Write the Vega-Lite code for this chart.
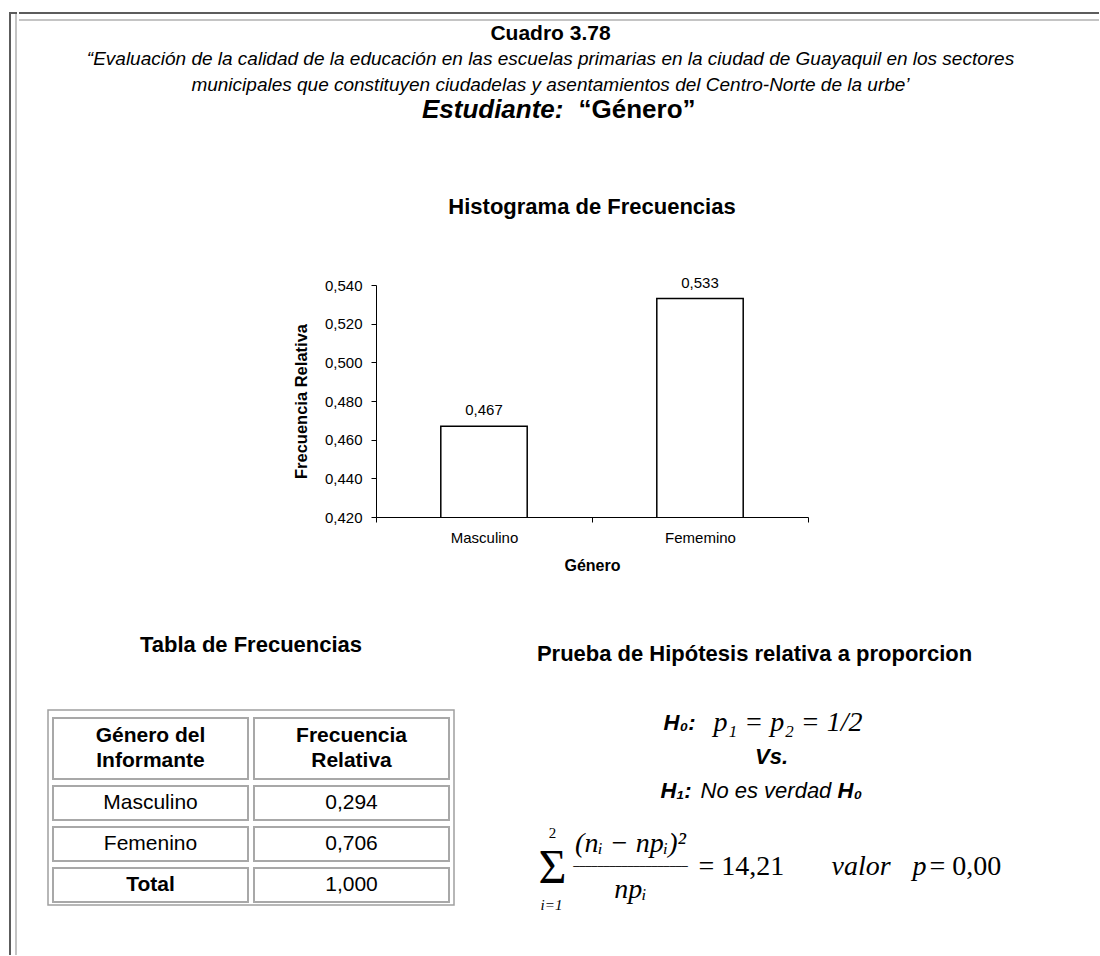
{
  "$schema": "https://vega.github.io/schema/vega-lite/v6.json",
  "background": "white",
  "padding": {"left": 8, "top": 11, "right": 0, "bottom": 0},
  "config": {
    "font": "Liberation Sans",
    "view": {"stroke": null},
    "locale": {"number": {"decimal": ",", "thousands": ".", "grouping": [3], "currency": ["", " €"]}},
    "title": {"color": "black", "font": "Liberation Sans"},
    "axis": {"labelColor": "black", "titleColor": "black", "domainColor": "black", "tickColor": "black", "labelFont": "Liberation Sans", "titleFont": "Liberation Sans", "grid": false},
    "text": {"color": "black"}
  },
  "datasets": {
    "bordes": [{"borde": "exterior"}, {"borde": "interior"}],
    "vacio": [{}],
    "encabezado": [
      {"parte": "cuadro", "renglon": "cuadro", "texto": "Cuadro 3.78"},
      {"parte": "linea1", "renglon": "linea1", "texto": "“Evaluación de la calidad de la educación en las escuelas primarias en la ciudad de Guayaquil en los sectores"},
      {"parte": "linea2", "renglon": "linea2", "texto": "municipales que constituyen ciudadelas y  asentamientos del Centro-Norte de la urbe’"},
      {"parte": "estudiante", "renglon": "estudiante", "texto": "Estudiante:"},
      {"parte": "genero", "renglon": "estudiante", "texto": "“Género”"}
    ],
    "histograma": [
      {"genero": "Masculino", "frecuencia": 0.467},
      {"genero": "Fememino", "frecuencia": 0.533}
    ],
    "columnas": [
      {"columna": "genero", "titulo": "Género del\nInformante"},
      {"columna": "frecuencia", "titulo": "Frecuencia\nRelativa"}
    ],
    "tabla": [
      {"genero": "Masculino", "frecuencia": 0.294},
      {"genero": "Femenino", "frecuencia": 0.706},
      {"genero": "Total", "frecuencia": 1.0}
    ],
    "prueba": [
      {"parte": "h0_etiqueta", "linea": "H0", "texto": "H₀:"},
      {"parte": "h0_expresion", "linea": "H0", "texto": "p₁ = p₂ = 1/2"},
      {"parte": "vs", "linea": "Vs", "texto": "Vs."},
      {"parte": "h1_etiqueta", "linea": "H1", "texto": "H₁:"},
      {"parte": "h1_texto", "linea": "H1", "texto": "No es verdad"},
      {"parte": "h1_h0", "linea": "H1", "texto": "H₀"},
      {"parte": "sumatoria", "linea": "principal", "texto": "Σ"},
      {"parte": "limite_sup", "linea": "numerador", "texto": "2"},
      {"parte": "limite_inf", "linea": "denominador", "texto": "i=1"},
      {"parte": "numerador", "linea": "numerador", "texto": "(nᵢ − npᵢ)²"},
      {"parte": "barra", "linea": "principal", "texto": "───────────────────"},
      {"parte": "denominador", "linea": "denominador", "texto": "npᵢ"},
      {"parte": "estadistico", "linea": "principal", "texto": "= 14,21"},
      {"parte": "valor", "linea": "principal", "texto": "valor"},
      {"parte": "p", "linea": "principal", "texto": "p"},
      {"parte": "valor_p", "linea": "principal", "texto": "= 0,00"}
    ]
  },
  "spacing": 0,
  "hconcat": [
    {
      "width": 6,
      "height": 942,
      "data": {"name": "bordes"},
      "layer": [
        {
          "mark": {"type": "rule", "strokeWidth": 2},
          "encoding": {
            "x": {"field": "borde", "type": "nominal", "sort": null, "scale": {"type": "point", "padding": 0, "domain": ["exterior", "interior"]}, "axis": null},
            "color": {"field": "borde", "type": "nominal", "scale": {"domain": ["exterior", "interior"], "range": ["#5c5c5c", "#c4c4c4"]}, "legend": null}
          }
        },
        {
          "transform": [{"filter": "datum.borde === 'exterior'"}],
          "mark": {"type": "rule", "strokeWidth": 2, "strokeCap": "square"},
          "encoding": {
            "y": {"field": "borde", "type": "nominal", "sort": null, "scale": {"type": "point", "padding": 0, "domain": ["exterior", "interior"]}, "axis": null},
            "color": {"field": "borde", "type": "nominal", "legend": null}
          }
        }
      ]
    },
    {
      "spacing": 0,
      "vconcat": [
        {
          "width": 1078,
          "height": 7,
          "data": {"name": "bordes"},
          "mark": {"type": "rule", "strokeWidth": 2, "strokeCap": "square"},
          "encoding": {
            "y": {"field": "borde", "type": "nominal", "sort": null, "scale": {"type": "point", "padding": 0, "domain": ["exterior", "interior"]}, "axis": null},
            "color": {"field": "borde", "type": "nominal", "scale": {"domain": ["exterior", "interior"], "range": ["#5c5c5c", "#c4c4c4"]}, "legend": null}
          }
        },
        {
          "spacing": 60,
          "vconcat": [
            {
              "width": 1061,
              "height": 113,
              "data": {"name": "encabezado"},
              "encoding": {
                "y": {"field": "renglon", "type": "nominal", "sort": null, "scale": {"type": "point", "domain": ["cuadro", "linea1", "linea2", "estudiante"], "padding": 0.73, "align": 0.324}, "axis": null},
                "text": {"field": "texto"}
              },
              "layer": [
                {"transform": [{"filter": "datum.parte === 'cuadro'"}], "mark": {"type": "text", "fontSize": 21, "fontWeight": "bold"}},
                {"transform": [{"filter": "datum.parte === 'linea1' || datum.parte === 'linea2'"}], "mark": {"type": "text", "fontSize": 19, "fontStyle": "italic"}},
                {"transform": [{"filter": "datum.parte === 'estudiante'"}], "mark": {"type": "text", "fontSize": 26, "fontWeight": "bold", "fontStyle": "italic", "align": "right", "dx": 13}},
                {"transform": [{"filter": "datum.parte === 'genero'"}], "mark": {"type": "text", "fontSize": 26, "fontWeight": "bold", "align": "left", "dx": 28}}
              ]
            },
            {
              "spacing": 0,
              "hconcat": [
                {"width": 273, "height": 1, "data": {"name": "vacio"}, "mark": {"type": "point", "opacity": 0, "size": 0}},
                {
                  "width": 432,
                  "height": 232,
                  "title": {"text": "Histograma de Frecuencias", "fontSize": 22, "fontWeight": "bold", "offset": 57},
                  "data": {"name": "histograma"},
                  "encoding": {
                    "x": {
                      "field": "genero", "type": "nominal", "sort": null,
                      "scale": {"paddingInner": 0, "paddingOuter": 0},
                      "axis": {"title": "Género", "titleFontSize": 16, "titleFontWeight": "bold", "labelFontSize": 15, "labelAngle": 0, "tickBand": "extent", "tickSize": 5, "labelPadding": 8, "titlePadding": 12}
                    },
                    "y": {
                      "field": "frecuencia", "type": "quantitative",
                      "scale": {"domain": [0.42, 0.54], "zero": false, "nice": false},
                      "axis": {"title": "Frecuencia Relativa", "values": [0.42, 0.44, 0.46, 0.48, 0.5, 0.52, 0.54], "format": ".3f", "labelFontSize": 15, "titleFontSize": 16.5, "titleFontWeight": "bold", "tickSize": 5, "labelPadding": 9, "titlePadding": 15}
                    }
                  },
                  "layer": [
                    {"mark": {"type": "bar", "fill": "white", "stroke": "black", "strokeWidth": 1.5, "width": {"band": 0.4}, "clip": true}},
                    {"mark": {"type": "text", "baseline": "bottom", "dy": -8, "fontSize": 15}, "encoding": {"text": {"field": "frecuencia", "format": ".3f"}}}
                  ]
                }
              ]
            },
            {
              "spacing": 0,
              "hconcat": [
                {"width": 27, "height": 1, "data": {"name": "vacio"}, "mark": {"type": "point", "opacity": 0, "size": 0}},
                {
                  "width": 406,
                  "height": 195,
                  "view": {"stroke": "#a0a0a0", "strokeWidth": 1.5},
                  "title": {"text": "Tabla de Frecuencias", "fontSize": 22, "fontWeight": "bold", "offset": 53},
                  "resolve": {"scale": {"y": "independent"}},
                  "layer": [
                    {
                      "data": {"name": "columnas"},
                      "mark": {"type": "rect", "fill": "white", "stroke": "#a8a8a8", "strokeWidth": 2},
                      "encoding": {
                        "x": {"field": "columna", "type": "nominal", "scale": {"domain": ["genero", "frecuencia"], "paddingInner": 0.02985, "paddingOuter": 0.02488}, "axis": null},
                        "y": {"datum": "encabezado", "type": "nominal", "scale": {"type": "band", "domain": ["encabezado"], "range": [8, 69], "paddingInner": 0, "paddingOuter": 0}, "axis": null}
                      }
                    },
                    {
                      "data": {"name": "columnas"},
                      "mark": {"type": "text", "fontSize": 21, "fontWeight": "bold", "lineBreak": "\n", "lineHeight": 25, "dy": -12.5},
                      "encoding": {
                        "x": {"field": "columna", "type": "nominal", "axis": null},
                        "y": {"datum": "encabezado", "type": "nominal", "scale": {"type": "band", "domain": ["encabezado"], "range": [8, 69], "paddingInner": 0, "paddingOuter": 0}, "axis": null},
                        "text": {"field": "titulo"}
                      }
                    },
                    {
                      "data": {"name": "tabla"},
                      "transform": [{"fold": ["genero", "frecuencia"], "as": ["columna", "valor"]}],
                      "mark": {"type": "rect", "fill": "white", "stroke": "#a8a8a8", "strokeWidth": 2},
                      "encoding": {
                        "x": {"field": "columna", "type": "nominal", "axis": null},
                        "y": {"field": "genero", "type": "nominal", "scale": {"type": "band", "domain": ["Masculino", "Femenino", "Total"], "paddingInner": 0.17073, "paddingOuter": 0.96341, "align": 0.962}, "axis": null}
                      }
                    },
                    {
                      "data": {"name": "tabla"},
                      "transform": [{"filter": "datum.genero !== 'Total'"}],
                      "mark": {"type": "text", "fontSize": 21},
                      "encoding": {
                        "x": {"datum": "genero", "type": "nominal", "axis": null},
                        "y": {"field": "genero", "type": "nominal", "scale": {"type": "band", "domain": ["Masculino", "Femenino", "Total"], "paddingInner": 0.17073, "paddingOuter": 0.96341, "align": 0.962}, "axis": null},
                        "text": {"field": "genero"}
                      }
                    },
                    {
                      "data": {"name": "tabla"},
                      "transform": [{"filter": "datum.genero === 'Total'"}],
                      "mark": {"type": "text", "fontSize": 21, "fontWeight": "bold"},
                      "encoding": {
                        "x": {"datum": "genero", "type": "nominal", "axis": null},
                        "y": {"field": "genero", "type": "nominal", "scale": {"type": "band", "domain": ["Masculino", "Femenino", "Total"], "paddingInner": 0.17073, "paddingOuter": 0.96341, "align": 0.962}, "axis": null},
                        "text": {"field": "genero"}
                      }
                    },
                    {
                      "data": {"name": "tabla"},
                      "mark": {"type": "text", "fontSize": 21},
                      "encoding": {
                        "x": {"datum": "frecuencia", "type": "nominal", "axis": null},
                        "y": {"field": "genero", "type": "nominal", "scale": {"type": "band", "domain": ["Masculino", "Femenino", "Total"], "paddingInner": 0.17073, "paddingOuter": 0.96341, "align": 0.962}, "axis": null},
                        "text": {"field": "frecuencia", "format": ".3f"}
                      }
                    }
                  ]
                },
                {
                  "width": 599,
                  "height": 220,
                  "title": {"text": "Prueba de Hipótesis relativa a proporcion", "fontSize": 22, "fontWeight": "bold", "offset": 43},
                  "data": {"name": "prueba"},
                  "encoding": {"text": {"field": "texto"}},
                  "resolve": {"scale": {"y": "independent"}},
                  "layer": [
                    {
                      "layer": [
                        {"transform": [{"filter": "datum.parte === 'h0_etiqueta'"}], "mark": {"type": "text", "fontSize": 22, "fontWeight": "bold", "fontStyle": "italic", "align": "right", "dx": -59, "font": "Liberation Sans, DejaVu Sans"}},
                        {"transform": [{"filter": "datum.parte === 'h0_expresion'"}], "mark": {"type": "text", "fontSize": 28, "fontStyle": "italic", "align": "left", "dx": -41, "font": "Liberation Serif, DejaVu Serif"}},
                        {"transform": [{"filter": "datum.parte === 'vs'"}], "mark": {"type": "text", "fontSize": 22, "fontWeight": "bold", "fontStyle": "italic", "dx": 17}},
                        {"transform": [{"filter": "datum.parte === 'h1_etiqueta'"}], "mark": {"type": "text", "fontSize": 22, "fontWeight": "bold", "fontStyle": "italic", "align": "left", "dx": -94, "font": "Liberation Sans, DejaVu Sans"}},
                        {"transform": [{"filter": "datum.parte === 'h1_texto'"}], "mark": {"type": "text", "fontSize": 22, "fontStyle": "italic", "align": "left", "dx": -54}},
                        {"transform": [{"filter": "datum.parte === 'h1_h0'"}], "mark": {"type": "text", "fontSize": 22, "fontWeight": "bold", "fontStyle": "italic", "align": "left", "dx": 83, "font": "Liberation Sans, DejaVu Sans"}}
                      ],
                      "encoding": {
                        "y": {"field": "linea", "type": "nominal", "sort": null, "scale": {"type": "point", "domain": ["H0", "Vs", "H1"], "range": [13, 81], "padding": 0}, "axis": null}
                      }
                    },
                    {
                      "layer": [
                        {"transform": [{"filter": "datum.parte === 'sumatoria'"}], "mark": {"type": "text", "fontSize": 48, "dx": -202, "dy": 2, "font": "Liberation Serif, DejaVu Serif"}},
                        {"transform": [{"filter": "datum.parte === 'limite_sup'"}], "mark": {"type": "text", "fontSize": 15, "dx": -202, "dy": -11, "font": "Liberation Serif, DejaVu Serif"}},
                        {"transform": [{"filter": "datum.parte === 'limite_inf'"}], "mark": {"type": "text", "fontSize": 15, "fontStyle": "italic", "dx": -203, "dy": 15, "font": "Liberation Serif, DejaVu Serif"}},
                        {"transform": [{"filter": "datum.parte === 'numerador'"}], "mark": {"type": "text", "fontSize": 28, "fontStyle": "italic", "dx": -124, "font": "Liberation Serif, DejaVu Serif"}},
                        {"transform": [{"filter": "datum.parte === 'barra'"}], "mark": {"type": "text", "fontSize": 10, "dx": -124, "font": "DejaVu Sans"}},
                        {"transform": [{"filter": "datum.parte === 'denominador'"}], "mark": {"type": "text", "fontSize": 28, "fontStyle": "italic", "dx": -124, "font": "Liberation Serif, DejaVu Serif"}},
                        {"transform": [{"filter": "datum.parte === 'estadistico'"}], "mark": {"type": "text", "fontSize": 28, "align": "left", "dx": -56, "font": "Liberation Serif, DejaVu Serif"}},
                        {"transform": [{"filter": "datum.parte === 'valor'"}], "mark": {"type": "text", "fontSize": 28, "fontStyle": "italic", "align": "left", "dx": 77, "font": "Liberation Serif, DejaVu Serif"}},
                        {"transform": [{"filter": "datum.parte === 'p'"}], "mark": {"type": "text", "fontSize": 28, "fontStyle": "italic", "align": "left", "dx": 158, "font": "Liberation Serif, DejaVu Serif"}},
                        {"transform": [{"filter": "datum.parte === 'valor_p'"}], "mark": {"type": "text", "fontSize": 28, "align": "left", "dx": 175, "font": "Liberation Serif, DejaVu Serif"}}
                      ],
                      "encoding": {
                        "y": {"field": "linea", "type": "nominal", "sort": null, "scale": {"type": "point", "domain": ["numerador", "principal", "denominador"], "range": [134, 180], "padding": 0}, "axis": null}
                      }
                    }
                  ]
                }
              ]
            }
          ]
        }
      ]
    }
  ]
}
